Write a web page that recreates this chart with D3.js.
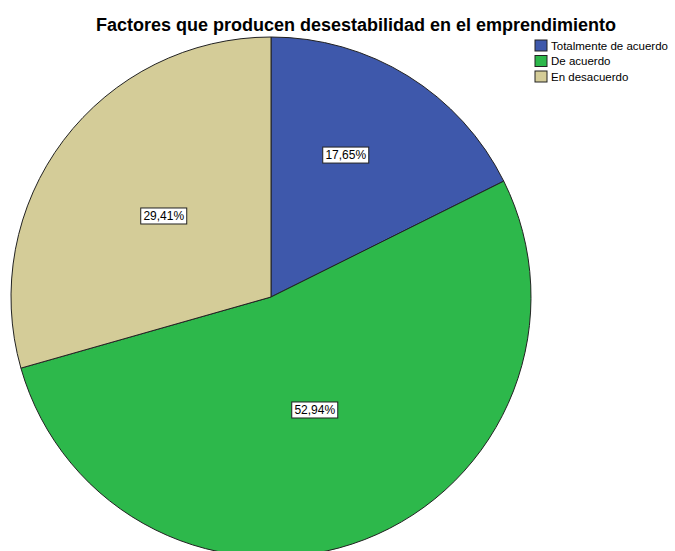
<!DOCTYPE html>
<html lang="es">
<head>
  <meta charset="UTF-8" />
  <title>Factores que producen desestabilidad</title>
  <script src="https://cdn.jsdelivr.net/npm/d3@7"></script>
  <style>
    body { margin: 0; background: #fff; }
    svg { display: block; }
  </style>
</head>
<body>
<script>
  const categories = ["Totalmente de acuerdo", "De acuerdo", "En desacuerdo"];
  const percents = [17.65, 52.94, 29.41];
  const labels = ["17,65%", "52,94%", "29,41%"];

  const colors = ["#3e58ab", "#2db84b", "#d4cc98"];
  // SPSS puts each label at its own spot, not exactly on the mid angle
  const labelFrac = [0.617, 0.466, 0.517];
  const labelTurn = [-4, 0, 0]; // degrees

  const W = 675, H = 551;
  const cx = 271, cy = 297, R = 260;

  const svg = d3.select("body").append("svg")
    .attr("width", W).attr("height", H);

  svg.append("text")
    .attr("x", 356).attr("y", 31)
    .attr("text-anchor", "middle")
    .style("font", "bold 18px 'Liberation Sans', Arial, sans-serif")
    .text("Factores que producen desestabilidad en el emprendimiento");

  const pie = d3.pie().sort(null).value(d => d);
  const arcs = pie(percents);
  const arc = d3.arc().innerRadius(0).outerRadius(R);

  const g = svg.append("g").attr("transform", `translate(${cx},${cy})`);

  g.selectAll("path.slice")
    .data(arcs)
    .enter().append("path")
    .attr("class", "slice")
    .attr("d", arc)
    .attr("fill", (d, i) => colors[i])
    .attr("stroke", "#222")
    .attr("stroke-width", 1);

  const lab = g.selectAll("g.lab")
    .data(arcs)
    .enter().append("g")
    .attr("class", "lab")
    .attr("transform", (d, i) => {
      const r = R * labelFrac[i];
      const a = (d.startAngle + d.endAngle) / 2 + labelTurn[i] * Math.PI / 180;
      return `translate(${r * Math.sin(a)},${-r * Math.cos(a)})`;
    });

  lab.append("rect")
    .attr("x", -23).attr("y", -8)
    .attr("width", 46).attr("height", 16)
    .attr("fill", "#fff")
    .attr("stroke", "#222")
    .attr("stroke-width", 1);

  lab.append("text")
    .attr("text-anchor", "middle")
    .attr("dy", "0.36em")
    .style("font", "12px 'Liberation Sans', Arial, sans-serif")
    .text((d, i) => labels[i]);

  const legend = svg.append("g").attr("transform", "translate(535,40)");
  const item = legend.selectAll("g")
    .data(categories)
    .enter().append("g")
    .attr("transform", (d, i) => `translate(0,${i * 15.5})`);

  item.append("rect")
    .attr("width", 12).attr("height", 11)
    .attr("fill", (d, i) => colors[i])
    .attr("stroke", "#222")
    .attr("stroke-width", 1);

  item.append("text")
    .attr("x", 16).attr("y", 5.5)
    .attr("dy", "0.35em")
    .style("font", "11.5px 'Liberation Sans', Arial, sans-serif")
    .text(d => d);
</script>
</body>
</html>
